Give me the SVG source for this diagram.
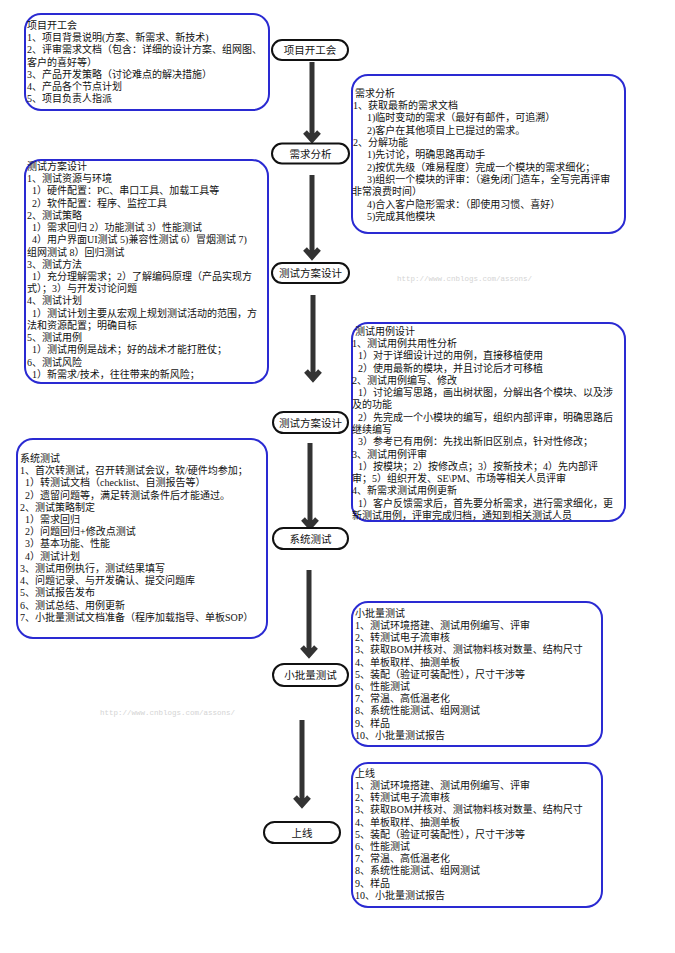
<svg xmlns="http://www.w3.org/2000/svg" width="675" height="953" viewBox="0 0 675 953">
<style>
.box{fill:#fff;stroke:#2a2ad2;stroke-width:2}
.node{fill:#fff;stroke:#111;stroke-width:2}
.t{font-family:"Liberation Serif","Noto Sans CJK SC",serif;font-size:10px;fill:#111}
.nl{font-family:"Liberation Serif","Noto Sans CJK SC",serif;font-size:10.5px;fill:#111;text-anchor:middle}
.arr{fill:none;stroke:#333;stroke-width:5;stroke-linejoin:miter}
.wm{font-family:"Liberation Mono",monospace;font-size:7.5px;fill:#d4d4d4}
</style>
<rect width="675" height="953" fill="#fff"/>
<g id="connectors">
<path class="arr" d="M312,62V137M305,132L312,140L319,132"/>
<path class="arr" d="M312,175V254M305,249L312,257L319,249"/>
<path class="arr" d="M313,295V376M306,371L313,379L320,371"/>
<path class="arr" d="M310,443V524M303,519L310,527L317,519"/>
<path class="arr" d="M309,570V652M302,647L309,655L316,647"/>
<path class="arr" d="M302,720V802M295,797L302,805L309,797"/>
</g>
<g id="n1"><rect class="node" x="272" y="40" width="76" height="20" rx="10"/><text class="nl" x="310" y="54">项目开工会</text></g>
<g id="n2"><rect class="node" x="272" y="143.5" width="77" height="20" rx="10"/><text class="nl" x="310.5" y="157.5">需求分析</text></g>
<g id="n3"><rect class="node" x="272" y="263" width="77" height="20" rx="10"/><text class="nl" x="310.5" y="277">测试方案设计</text></g>
<g id="n4"><rect class="node" x="273" y="412" width="75" height="21" rx="10.5"/><text class="nl" x="310.5" y="426.5">测试方案设计</text></g>
<g id="n5"><rect class="node" x="273" y="528" width="75" height="21" rx="10.5"/><text class="nl" x="310.5" y="542.5">系统测试</text></g>
<g id="n6"><rect class="node" x="273" y="664" width="75" height="22" rx="11"/><text class="nl" x="310.5" y="679">小批量测试</text></g>
<g id="n7"><rect class="node" x="264" y="822" width="76" height="21" rx="10.5"/><text class="nl" x="302" y="836.5">上线</text></g>

<g id="b1"><rect class="box" x="25" y="14" width="244" height="96" rx="16"/>
<text class="t" x="27" y="29">项目开工会</text>
<text class="t" x="27" y="41.2">1、项目背景说明(方案、新需求、新技术)</text>
<text class="t" x="27" y="53.4">2、评审需求文档（包含：详细的设计方案、组网图、</text>
<text class="t" x="27" y="65.6">客户的喜好等）</text>
<text class="t" x="27" y="77.8">3、产品开发策略（讨论难点的解决措施）</text>
<text class="t" x="27" y="90">4、产品各个节点计划</text>
<text class="t" x="27" y="102.2">5、项目负责人指派</text>
</g>

<g id="b2"><rect class="box" x="352" y="75" width="273" height="158" rx="16"/>
<text class="t" x="355" y="96.8">需求分析</text>
<text class="t" x="353" y="109.1">1、获取最新的需求文档</text>
<text class="t" x="367" y="121.4">1)临时变动的需求（最好有邮件，可追溯）</text>
<text class="t" x="367" y="133.7">2)客户在其他项目上已提过的需求。</text>
<text class="t" x="353" y="146">2、分解功能</text>
<text class="t" x="367" y="158.3">1)先讨论，明确思路再动手</text>
<text class="t" x="367" y="170.6">2)按优先级（难易程度）完成一个模块的需求细化；</text>
<text class="t" x="367" y="182.9">3)组织一个模块的评审：（避免闭门造车，全写完再评审</text>
<text class="t" x="352" y="195.2">非常浪费时间）</text>
<text class="t" x="367" y="207.5">4)合入客户隐形需求：（即使用习惯、喜好）</text>
<text class="t" x="367" y="219.8">5)完成其他模块</text>
</g>

<g id="b3"><rect class="box" x="25" y="160" width="243" height="223" rx="16"/>
<text class="t" x="27" y="169.8">测试方案设计</text>
<text class="t" x="27" y="182">1、测试资源与环境</text>
<text class="t" x="32" y="194.3">1）硬件配置：PC、串口工具、加载工具等</text>
<text class="t" x="32" y="206.5">2）软件配置：程序、监控工具</text>
<text class="t" x="27" y="218.8">2、测试策略</text>
<text class="t" x="32" y="231">1）需求回归 2）功能测试 3）性能测试</text>
<text class="t" x="32" y="243.2">4）用户界面UI测试 5)兼容性测试 6）冒烟测试 7)</text>
<text class="t" x="27" y="255.5">组网测试 8）回归测试</text>
<text class="t" x="27" y="267.7">3、测试方法</text>
<text class="t" x="32" y="280">1）充分理解需求；2）了解编码原理（产品实现方</text>
<text class="t" x="27" y="292.2">式）；3）与开发讨论问题</text>
<text class="t" x="27" y="304.4">4、测试计划</text>
<text class="t" x="32" y="316.7">1）测试计划主要从宏观上规划测试活动的范围，方</text>
<text class="t" x="27" y="328.9">法和资源配置；明确目标</text>
<text class="t" x="27" y="341.2">5、测试用例</text>
<text class="t" x="32" y="353.4">1）测试用例是战术；好的战术才能打胜仗；</text>
<text class="t" x="27" y="365.6">6、测试风险</text>
<text class="t" x="32" y="377.9">1）新需求/技术，往往带来的新风险；</text>
</g>

<g id="b4"><rect class="box" x="352" y="323" width="273" height="198" rx="16"/>
<text class="t" x="355" y="334.8">测试用例设计</text>
<text class="t" x="352" y="347.1">1、测试用例共用性分析</text>
<text class="t" x="358" y="359.3">1）对于详细设计过的用例，直接移植使用</text>
<text class="t" x="358" y="371.6">2）使用最新的模块，并且讨论后才可移植</text>
<text class="t" x="352" y="383.9">2、测试用例编写、修改</text>
<text class="t" x="358" y="396.2">1）讨论编写思路，画出树状图，分解出各个模块、以及涉</text>
<text class="t" x="352" y="408.4">及的功能</text>
<text class="t" x="358" y="420.7">2）先完成一个小模块的编写，组织内部评审，明确思路后</text>
<text class="t" x="352" y="433">继续编写</text>
<text class="t" x="358" y="445.2">3）参考已有用例：先找出新旧区别点，针对性修改；</text>
<text class="t" x="352" y="457.5">3、测试用例评审</text>
<text class="t" x="358" y="469.8">1）按模块；2）按修改点；3）按新技术；4）先内部评</text>
<text class="t" x="352" y="482">审；5）组织开发、SE\PM、市场等相关人员评审</text>
<text class="t" x="352" y="494.3">4、新需求测试用例更新</text>
<text class="t" x="358" y="506.6">1）客户反馈需求后，首先要分析需求，进行需求细化，更</text>
<text class="t" x="352" y="518.8">新测试用例，评审完成归档，通知到相关测试人员</text>
</g>

<g id="b5"><rect class="box" x="17" y="439" width="250" height="199" rx="16"/>
<text class="t" x="20" y="461.8">系统测试</text>
<text class="t" x="20" y="474">1、首次转测试，召开转测试会议，软/硬件均参加；</text>
<text class="t" x="25" y="486.3">1）转测试文档（checklist、自测报告等）</text>
<text class="t" x="25" y="498.5">2）遗留问题等，满足转测试条件后才能通过。</text>
<text class="t" x="20" y="510.7">2、测试策略制定</text>
<text class="t" x="25" y="523">1）需求回归</text>
<text class="t" x="25" y="535.2">2）问题回归+修改点测试</text>
<text class="t" x="25" y="547.4">3）基本功能、性能</text>
<text class="t" x="25" y="559.6">4）测试计划</text>
<text class="t" x="20" y="571.9">3、测试用例执行，测试结果填写</text>
<text class="t" x="20" y="584.1">4、问题记录、与开发确认、提交问题库</text>
<text class="t" x="20" y="596.3">5、测试报告发布</text>
<text class="t" x="20" y="608.6">6、测试总结、用例更新</text>
<text class="t" x="20" y="620.8">7、小批量测试文档准备（程序加载指导、单板SOP）</text>
</g>

<g id="b6"><rect class="box" x="352" y="602" width="250" height="144" rx="16"/>
<text class="t" x="355" y="616.8">小批量测试</text>
<text class="t" x="355" y="629">1、测试环境搭建、测试用例编写、评审</text>
<text class="t" x="355" y="641.2">2、转测试电子流审核</text>
<text class="t" x="355" y="653.4">3、获取BOM并核对、测试物料核对数量、结构尺寸</text>
<text class="t" x="355" y="665.6">4、单板取样、抽测单板</text>
<text class="t" x="355" y="677.8">5、装配（验证可装配性），尺寸干涉等</text>
<text class="t" x="355" y="690">6、性能测试</text>
<text class="t" x="355" y="702.2">7、常温、高低温老化</text>
<text class="t" x="355" y="714.4">8、系统性能测试、组网测试</text>
<text class="t" x="355" y="726.6">9、样品</text>
<text class="t" x="355" y="738.8">10、小批量测试报告</text>
</g>

<g id="b7"><rect class="box" x="352" y="763" width="250" height="144" rx="16"/>
<text class="t" x="355" y="776.8">上线</text>
<text class="t" x="355" y="789">1、测试环境搭建、测试用例编写、评审</text>
<text class="t" x="355" y="801.2">2、转测试电子流审核</text>
<text class="t" x="355" y="813.4">3、获取BOM并核对、测试物料核对数量、结构尺寸</text>
<text class="t" x="355" y="825.6">4、单板取样、抽测单板</text>
<text class="t" x="355" y="837.8">5、装配（验证可装配性），尺寸干涉等</text>
<text class="t" x="355" y="850">6、性能测试</text>
<text class="t" x="355" y="862.2">7、常温、高低温老化</text>
<text class="t" x="355" y="874.4">8、系统性能测试、组网测试</text>
<text class="t" x="355" y="886.6">9、样品</text>
<text class="t" x="355" y="898.8">10、小批量测试报告</text>
</g>

<text class="wm" x="397" y="281">http://www.cnblogs.com/assons/</text>
<text class="wm" x="100" y="715">http://www.cnblogs.com/assons/</text>
</svg>
